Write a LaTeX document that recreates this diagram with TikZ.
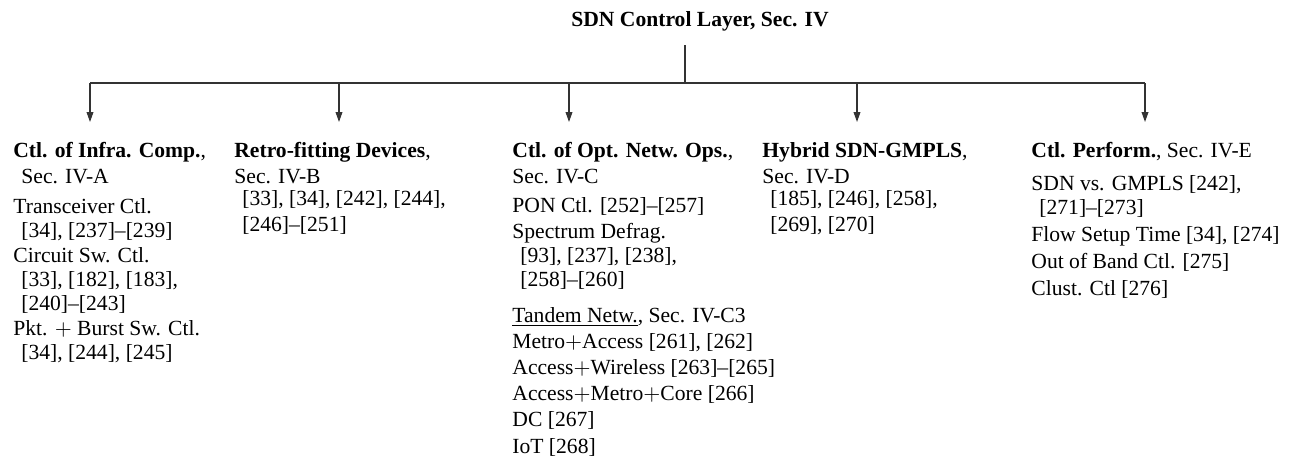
\documentclass[tikz,border=0pt]{standalone}
\usepackage{fontspec}
\setmainfont{Liberation Serif}
\usetikzlibrary{positioning,arrows.meta}
\newcommand{\refind}{\hspace*{4pt}}

\begin{document}
\begin{tikzpicture}[
	font=\fontsize{10.8pt}{12.2pt}\selectfont,
	branch/.style={align=left, anchor=north west, inner sep=0pt},
	link/.style={line width=0.6pt, draw=black!80},
	arr/.style={link, -{Triangle[length=5pt, width=3.4pt]}}
	]
	\useasboundingbox (0,0) rectangle (645pt,-231pt);
	\node[anchor=base] (top) at (350pt,-13.3pt) {\textbf{SDN Control Layer, Sec. IV}};
	\coordinate (hub) at (342.5pt,-41.5pt);
	\coordinate (b1) at (45pt,-41.5pt);
	\coordinate (b2) at (169.5pt,-41.5pt);
	\coordinate (b3) at (284.5pt,-41.5pt);
	\coordinate (b4) at (428.5pt,-41.5pt);
	\coordinate (b5) at (572.5pt,-41.5pt);
	\coordinate[below=19.5pt of b1] (e1);
	\coordinate[below=19.5pt of b2] (e2);
	\coordinate[below=19.5pt of b3] (e3);
	\coordinate[below=19.5pt of b4] (e4);
	\coordinate[below=19.5pt of b5] (e5);
	% \strut on the first line fixes the top of each block
	\node[branch] (c1) at (6.5pt,-69.96pt) {\strut\textbf{Ctl. of Infra. Comp.},\\[0.8pt]
		\refind Sec. IV-A\\[2.7pt]
		Transceiver Ctl.\\
		\refind [34], [237]--[239]\\
		Circuit Sw. Ctl.\\
		\refind [33], [182], [183],\\
		\refind [240]--[243]\\
		Pkt. $+$ Burst Sw. Ctl.\\
		\refind [34], [244], [245]};
	\node[branch] (c2) at (117pt,-69.96pt) {\strut\textbf{Retro-fitting Devices},\\[0.8pt]
		Sec. IV-B\\[-1pt]
		\refind [33], [34], [242], [244],\\[0.6pt]
		\refind [246]--[251]};
	\node[branch] (c3) at (256pt,-69.96pt) {\strut\textbf{Ctl. of Opt. Netw. Ops.},\\[0.8pt]
		Sec. IV-C\\[2.3pt]
		PON Ctl. [252]--[257]\\[0.6pt]
		Spectrum Defrag.\\
		\refind [93], [237], [238],\\
		\refind [258]--[260]};
	\node[branch] (c3b) at (256pt,-152.31pt) {\strut\underline{Tandem Netw.}, Sec. IV-C3\\[0.9pt]
		Metro$+$Access [261], [262]\\[0.9pt]
		Access$+$Wireless [263]--[265]\\[0.9pt]
		Access$+$Metro$+$Core [266]\\[0.9pt]
		DC [267]\\[0.9pt]
		IoT [268]};
	\node[branch] (c4) at (381pt,-69.96pt) {\strut\textbf{Hybrid SDN-GMPLS},\\[0.8pt]
		Sec. IV-D\\[-1pt]
		\refind [185], [246], [258],\\[0.6pt]
		\refind [269], [270]};
	\node[branch] (c5) at (515.5pt,-69.96pt) {\strut\textbf{Ctl. Perform.}, Sec. IV-E\\[4.1pt]
		SDN vs. GMPLS [242],\\
		\refind [271]--[273]\\[1.1pt]
		Flow Setup Time [34], [274]\\[1.6pt]
		Out of Band Ctl. [275]\\[1pt]
		Clust. Ctl [276]};
	% tree lines
	\draw[link] ([yshift=-3.5pt]top.south -| hub) -- (hub);
	\draw[link] (b1) -- (b5);
	\draw[arr] (b1) -- (e1);
	\draw[arr] (b2) -- (e2);
	\draw[arr] (b3) -- (e3);
	\draw[arr] (b4) -- (e4);
	\draw[arr] (b5) -- (e5);
\end{tikzpicture}
\end{document}
